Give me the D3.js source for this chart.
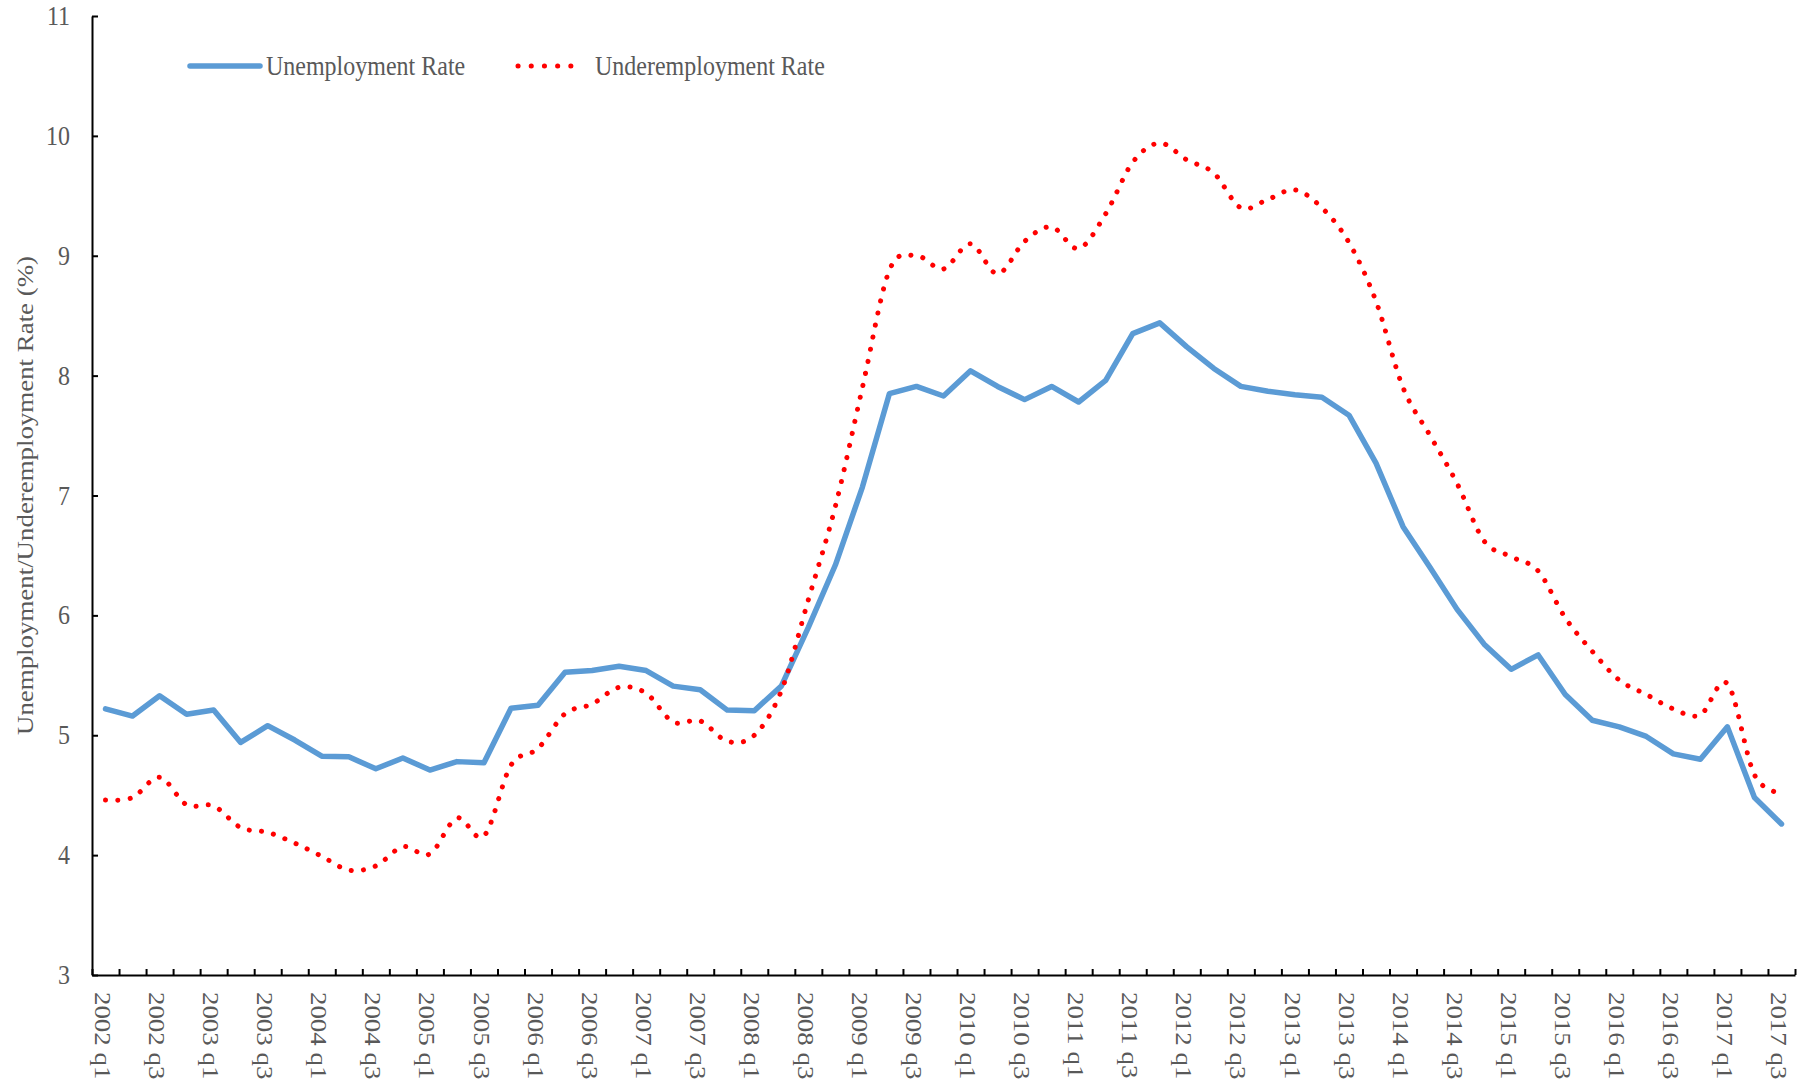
<!DOCTYPE html>
<html>
<head>
<meta charset="utf-8">
<script src="https://cdn.jsdelivr.net/npm/d3@7"></script>
<style>
  body { margin: 0; background: #fff; }
  text { font-family: "Times New Roman", "Liberation Serif", serif; fill: #595959; }
</style>
</head>
<body>
<div id="chart"></div>
<script>
// Quarters shown on the x axis (every second one gets a label)
const quarters = [
  "2002 q1","2002 q2","2002 q3","2002 q4","2003 q1","2003 q2","2003 q3","2003 q4",
  "2004 q1","2004 q2","2004 q3","2004 q4","2005 q1","2005 q2","2005 q3","2005 q4",
  "2006 q1","2006 q2","2006 q3","2006 q4","2007 q1","2007 q2","2007 q3","2007 q4",
  "2008 q1","2008 q2","2008 q3","2008 q4","2009 q1","2009 q2","2009 q3","2009 q4",
  "2010 q1","2010 q2","2010 q3","2010 q4","2011 q1","2011 q2","2011 q3","2011 q4",
  "2012 q1","2012 q2","2012 q3","2012 q4","2013 q1","2013 q2","2013 q3","2013 q4",
  "2014 q1","2014 q2","2014 q3","2014 q4","2015 q1","2015 q2","2015 q3","2015 q4",
  "2016 q1","2016 q2","2016 q3","2016 q4","2017 q1","2017 q2","2017 q3"
];

const unemployment = [
  5.22, 5.16, 5.33, 5.175, 5.21, 4.94, 5.08, 4.96,
  4.825, 4.82, 4.72, 4.81, 4.71, 4.78, 4.77, 5.225,
  5.25, 5.525, 5.54, 5.575, 5.54, 5.41, 5.38, 5.21,
  5.205, 5.41, 5.90, 6.42, 7.07, 7.85, 7.91, 7.83,
  8.04, 7.91, 7.80, 7.91, 7.78, 7.96, 8.35, 8.44,
  8.24, 8.06, 7.91, 7.87, 7.84, 7.82, 7.67, 7.27,
  6.74, 6.40, 6.05, 5.76, 5.55, 5.67, 5.34, 5.125,
  5.07, 4.99, 4.845, 4.80, 5.07, 4.48, 4.26
];

const underemployment = [
  4.46, 4.48, 4.65, 4.42, 4.41, 4.23, 4.19, 4.10,
  3.99, 3.875, 3.91, 4.07, 4.01, 4.31, 4.16, 4.75,
  4.89, 5.18, 5.26, 5.40, 5.35, 5.11, 5.12, 4.95,
  5.00, 5.37, 6.13, 6.91, 7.90, 8.88, 9.00, 8.89,
  9.10, 8.85, 9.12, 9.24, 9.06, 9.35, 9.78, 9.94,
  9.80, 9.69, 9.40, 9.47, 9.55, 9.40, 9.11, 8.62,
  7.90, 7.50, 7.10, 6.62, 6.49, 6.37, 5.98, 5.70,
  5.46, 5.34, 5.22, 5.17, 5.43, 4.67, 4.52
];

const yTicks = [3, 4, 5, 6, 7, 8, 9, 10, 11];
const seriesNames = ["Unemployment Rate", "Underemployment Rate"];
const yTitle = "Unemployment/Underemployment Rate (%)";

const W = 1807, H = 1079;
const plot = {left: 92, right: 1795, top: 16, bottom: 975};
const stretch = 1.12; // the original text is a bit taller than wide

const svg = d3.select("#chart").append("svg")
    .attr("width", W)
    .attr("height", H);

const x = d3.scaleBand()
    .domain(quarters)
    .range([plot.left, plot.right])
    .padding(0);

// boundary scale for the tick marks between categories
const xEdge = d3.scaleLinear()
    .domain([0, quarters.length])
    .range([plot.left, plot.right]);

const y = d3.scaleLinear()
    .domain([3, 11])
    .range([plot.bottom, plot.top]);

const cx = d => x(d) + x.bandwidth() / 2;

// Y axis
const yAxis = svg.append("g")
    .attr("transform", `translate(${plot.left},0)`)
    .call(d3.axisLeft(y).tickValues(yTicks).tickSize(-6).tickSizeOuter(0).tickPadding(22));
yAxis.select(".domain").attr("stroke", "#000").attr("stroke-width", 2);
yAxis.selectAll(".tick line").attr("stroke", "#000").attr("stroke-width", 2);
yAxis.selectAll(".tick text")
    .attr("transform", `scale(1,${stretch})`)
    .style("font-size", "24px")
    .style("font-family", "'Times New Roman', 'Liberation Serif', serif")
    .attr("fill", "#595959");

// X axis: ticks between categories
const xAxis = svg.append("g")
    .attr("transform", `translate(0,${plot.bottom})`)
    .call(d3.axisBottom(xEdge)
        .tickValues(d3.range(0, quarters.length + 1))
        .tickSize(-6).tickSizeOuter(0).tickFormat(""));
xAxis.select(".domain").attr("stroke", "#000").attr("stroke-width", 2);
xAxis.selectAll(".tick line").attr("stroke", "#000").attr("stroke-width", 2);

// X labels, rotated, every second quarter
svg.append("g").selectAll("text")
    .data(quarters.filter((d, i) => i % 2 === 0))
    .enter().append("text")
    .attr("transform", d => `translate(${cx(d) - 2},${plot.bottom + 17}) rotate(90) scale(${stretch},1)`)
    .attr("dy", "0.35em")
    .attr("text-anchor", "start")
    .style("font-size", "24px")
    .text(d => d);

// Y title
svg.append("text")
    .attr("transform", `translate(25,${(plot.top + plot.bottom) / 2}) rotate(-90) scale(${stretch},1)`)
    .attr("dy", "0.35em")
    .attr("text-anchor", "middle")
    .style("font-size", "24px")
    .text(yTitle);

// Lines
const lineStraight = d3.line()
    .x((d, i) => cx(quarters[i]))
    .y(d => y(d));

const lineSmooth = d3.line()
    .x((d, i) => cx(quarters[i]))
    .y(d => y(d))
    .curve(d3.curveCatmullRom.alpha(0));

svg.append("path")
    .datum(unemployment)
    .attr("d", lineStraight)
    .attr("fill", "none")
    .attr("stroke", "#5B9BD5")
    .attr("stroke-width", 5.5)
    .attr("stroke-linejoin", "round")
    .attr("stroke-linecap", "round");

svg.append("path")
    .datum(underemployment)
    .attr("d", lineSmooth)
    .attr("fill", "none")
    .attr("stroke", "#FF0000")
    .attr("stroke-width", 5)
    .attr("stroke-linecap", "round")
    .attr("stroke-dasharray", "0.1 12.2");

// Legend
const legY = 66;
svg.append("line")
    .attr("x1", 190).attr("x2", 260).attr("y1", legY).attr("y2", legY)
    .attr("stroke", "#5B9BD5").attr("stroke-width", 5.5).attr("stroke-linecap", "round");
svg.append("text")
    .attr("transform", `translate(266,${legY}) scale(1,${stretch})`)
    .attr("dy", "0.35em")
    .style("font-size", "24px")
    .text(seriesNames[0]);
svg.append("line")
    .attr("x1", 518).attr("x2", 584).attr("y1", legY).attr("y2", legY)
    .attr("stroke", "#FF0000").attr("stroke-width", 5).attr("stroke-linecap", "round")
    .attr("stroke-dasharray", "0.1 13.1");
svg.append("text")
    .attr("transform", `translate(595,${legY}) scale(1,${stretch})`)
    .attr("dy", "0.35em")
    .style("font-size", "24px")
    .text(seriesNames[1]);
</script>
</body>
</html>
